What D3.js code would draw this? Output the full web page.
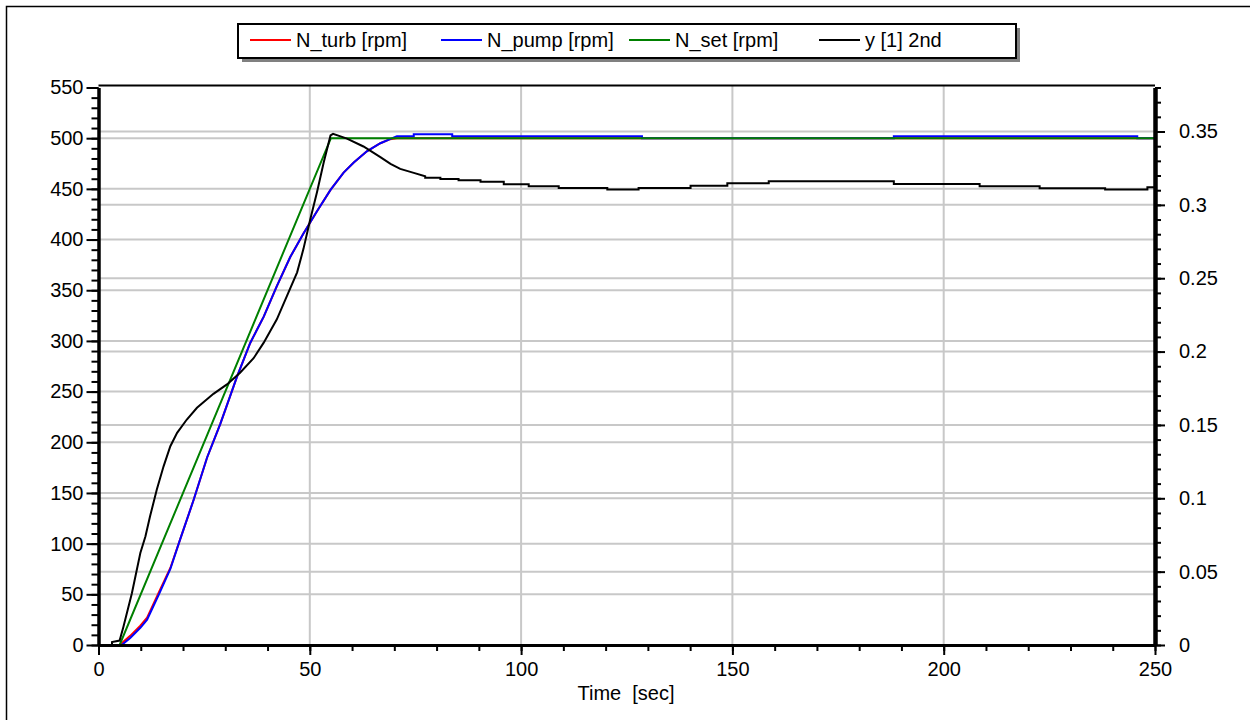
<!DOCTYPE html>
<html>
<head>
<meta charset="utf-8">
<script src="https://cdn.jsdelivr.net/npm/d3@7"></script>
<style>
  body { margin: 0; background: #fff; }
  svg { display: block; font-family: "Liberation Sans", Arial, sans-serif; }
</style>
</head>
<body>
<div id="chart"></div>
<script>
// time [sec] / value pairs
const turbSeries = [[0,0],[5,0],[7.5,9],[9.9,19],[11.5,27],[14.3,52],[17,76],[19.3,104],[22.5,143],[25.7,185],
  [28.8,218],[30,232],[32.8,265],[35.9,298],[39.1,324],[42.2,354],[45.4,383],[48.5,406],[51.7,428],[54.9,449],
  [58,466],[60.4,476],[63.5,487],[66.7,495],[69,499],[70.6,500],[250,500]];
const pumpSeries = [[0,0],[5.5,0],[7.5,7],[9.9,17],[11.5,25],[14.3,50],[17,75],[19.3,104],[22.5,143],[25.7,185],
  [28.8,218],[30,232],[32.8,265],[35.9,298],[39.1,324],[42.2,354],[45.4,383],[48.5,406],[51.7,428],[54.9,449],
  [58,466],[60.4,476],[63.5,487],[66.7,495],[69,499],[70.6,502],[74.6,502],[74.6,504],[83.7,504],[83.7,502],
  [128.6,502],[128.6,500],[188.2,500],[188.2,502],[245.8,502],[245.8,500],[250,500]];
const setSeries = [[0,0],[5,0],[55,500],[250,500]];
const ySeries = [[0,0],[3.2,0],[3.2,0.002],[5,0.003],[5.9,0.0125],[7.9,0.0353],[9.9,0.0627],[11.1,0.074],
  [12.2,0.0877],[13.8,0.106],[15.4,0.1218],[17,0.1355],[18.6,0.1446],[20.9,0.1537],[23.3,0.1617],[27.2,0.1712],
  [30.4,0.1776],[33.5,0.1856],[36.7,0.1955],[39.1,0.2061],[42.2,0.222],[44.6,0.238],[47,0.254],[48.5,0.27],
  [50.1,0.29],[51.7,0.3086],[53.3,0.329],[54.9,0.3473],[55.5,0.3484],[58.8,0.3452],[62.7,0.3398],[66.7,0.3325],
  [69.1,0.3279],[71.4,0.3245],[74.6,0.3218],[77.3,0.3195],[77.3,0.3184],[80.9,0.3184],[80.9,0.3177],
  [85.2,0.3177],[85.2,0.3168],[90.4,0.3168],[90.4,0.3158],[95.9,0.3158],[95.9,0.3141],[101.8,0.3141],
  [101.8,0.3127],[108.9,0.3127],[108.9,0.3115],[120.4,0.3115],[120.4,0.3104],[127.8,0.3104],[127.8,0.3115],
  [140.1,0.3115],[140.1,0.3131],[148.8,0.3131],[148.8,0.3148],[158.6,0.3148],[158.6,0.3161],[188.2,0.3161],
  [188.2,0.3143],[208.5,0.3143],[208.5,0.3127],[222.7,0.3127],[222.7,0.3113],[238.2,0.3113],[238.2,0.3104],
  [248.2,0.3104],[248.2,0.312],[250,0.312]];

const legendNames = ["N_turb [rpm]", "N_pump [rpm]", "N_set [rpm]", "y [1] 2nd"];
const legendColors = ["#ff0000", "#0000ff", "#008000", "#000000"];
const xTicks = [0, 50, 100, 150, 200, 250];
const leftTicks = [0, 50, 100, 150, 200, 250, 300, 350, 400, 450, 500, 550];
const rightTicks = [0, 0.05, 0.1, 0.15, 0.2, 0.25, 0.3, 0.35];

const W = 1250, H = 720;
const PLOT = { LEFT: 98.5, RIGHT: 1155, TOP: 87.5, BOTTOM: 645 };

const svg = d3.select("#chart").append("svg").attr("width", W).attr("height", H);

// outer frame
svg.append("rect").attr("x", 6.5).attr("y", 6.5).attr("width", W).attr("height", H)
  .attr("fill", "none").attr("stroke", "#000").attr("stroke-width", 1.5);

// scales
const x = d3.scaleLinear().domain([0, 250]).range([PLOT.LEFT, PLOT.RIGHT]);
const yL = d3.scaleLinear().domain([0, 550]).range([PLOT.BOTTOM, PLOT.TOP]);
const yR = d3.scaleLinear().domain([0, 0.38]).range([PLOT.BOTTOM, PLOT.TOP]);

// grid
const grid = svg.append("g").attr("stroke", "#c8c8c8").attr("stroke-width", 2);
grid.selectAll(".vg").data(xTicks.filter(d => d > 0 && d < 250)).join("line")
  .attr("x1", d => x(d)).attr("x2", d => x(d)).attr("y1", PLOT.TOP - 2).attr("y2", PLOT.BOTTOM);
grid.selectAll(".hl").data(leftTicks.filter(d => d > 0 && d < 550)).join("line").attr("class", "hl")
  .attr("x1", PLOT.LEFT).attr("x2", PLOT.RIGHT).attr("y1", d => yL(d)).attr("y2", d => yL(d));
grid.selectAll(".hr").data(rightTicks.filter(d => d > 0)).join("line").attr("class", "hr")
  .attr("x1", PLOT.LEFT).attr("x2", PLOT.RIGHT).attr("y1", d => yR(d)).attr("y2", d => yR(d));

// top border of plot
svg.append("line").attr("x1", PLOT.LEFT).attr("x2", PLOT.RIGHT).attr("y1", PLOT.TOP - 2).attr("y2", PLOT.TOP - 2)
  .attr("stroke", "#000").attr("stroke-width", 2);

// lines
svg.append("clipPath").attr("id", "clip").append("rect")
  .attr("x", PLOT.LEFT).attr("y", PLOT.TOP - 2).attr("width", PLOT.RIGHT - PLOT.LEFT).attr("height", PLOT.BOTTOM - PLOT.TOP + 2);
const lines = svg.append("g").attr("clip-path", "url(#clip)").attr("fill", "none")
  .attr("stroke-width", 2).attr("stroke-linejoin", "miter");
const lineL = d3.line().x(d => x(d[0])).y(d => yL(d[1]));
const lineR = d3.line().x(d => x(d[0])).y(d => yR(d[1]));
lines.append("path").attr("d", lineL(turbSeries)).attr("stroke", legendColors[0]);
lines.append("path").attr("d", lineL(pumpSeries)).attr("stroke", legendColors[1]);
lines.append("path").attr("d", lineL(setSeries)).attr("stroke", legendColors[2]);
lines.append("path").attr("d", lineR(ySeries)).attr("stroke", legendColors[3]);

// axes
function styleAxis(g, width) {
  g.select(".domain").attr("stroke-width", width);
  g.selectAll(".tick line").attr("stroke-width", 2);
  g.selectAll("text").attr("font-size", 20).attr("fill", "#000").attr("font-family", "Liberation Sans, Arial, sans-serif");
}

const xMinor = svg.append("g").attr("transform", `translate(0,${PLOT.BOTTOM})`)
  .call(d3.axisBottom(x).tickValues(d3.range(0, 251, 10)).tickSize(6).tickSizeOuter(0).tickFormat(""));
styleAxis(xMinor, 3);
const xMajor = svg.append("g").attr("transform", `translate(0,${PLOT.BOTTOM})`)
  .call(d3.axisBottom(x).tickValues(xTicks).tickSize(10).tickSizeOuter(0).tickPadding(7));
styleAxis(xMajor, 3);

const lMinor = svg.append("g").attr("transform", `translate(${PLOT.LEFT},0)`)
  .call(d3.axisLeft(yL).tickValues(d3.range(0, 551, 10)).tickSize(7).tickSizeOuter(0).tickFormat(""));
styleAxis(lMinor, 3);
const lMajor = svg.append("g").attr("transform", `translate(${PLOT.LEFT},0)`)
  .call(d3.axisLeft(yL).tickValues(leftTicks).tickSize(12).tickSizeOuter(0).tickPadding(3));
styleAxis(lMajor, 3);

const rMinor = svg.append("g").attr("transform", `translate(${PLOT.RIGHT},0)`)
  .call(d3.axisRight(yR).tickValues(d3.range(0, 0.385, 0.01)).tickSize(6).tickSizeOuter(0).tickFormat(""));
styleAxis(rMinor, 4);
const rMajor = svg.append("g").attr("transform", `translate(${PLOT.RIGHT},0)`)
  .call(d3.axisRight(yR).tickValues(rightTicks).tickSize(10).tickSizeOuter(0).tickPadding(14)
    .tickFormat(d => d3.format("~g")(d)));
styleAxis(rMajor, 4);

// axis title
svg.append("text").attr("x", 626).attr("y", 700).attr("text-anchor", "middle")
  .attr("font-size", 20).style("white-space", "pre").text("Time  [sec]");

// legend
const LEG = { x: 238, y: 24, w: 778, h: 34 };
svg.append("rect").attr("x", LEG.x + 4).attr("y", LEG.y + 4).attr("width", LEG.w).attr("height", LEG.h).attr("fill", "#808080");
svg.append("rect").attr("x", LEG.x).attr("y", LEG.y).attr("width", LEG.w).attr("height", LEG.h)
  .attr("fill", "#fff").attr("stroke", "#000").attr("stroke-width", 2);
const legX = [250, 441, 629, 819];
const item = svg.selectAll(".leg").data(legendNames).join("g").attr("class", "leg")
  .attr("transform", (d, i) => `translate(${legX[i]},${LEG.y + 16})`);
item.append("line").attr("x1", 0).attr("x2", 41).attr("stroke-width", 2).attr("stroke", (d, i) => legendColors[i]);
item.append("text").attr("x", 46).attr("y", 7).attr("font-size", 20).text(d => d);
</script>
</body>
</html>
